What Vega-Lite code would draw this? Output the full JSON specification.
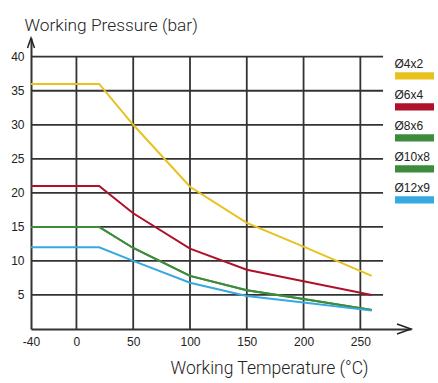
{
  "$schema": "https://vega.github.io/schema/vega-lite/v6.json",
  "width": 380,
  "height": 291,
  "autosize": {"type": "none"},
  "padding": {"left": 31, "top": 38, "right": 27, "bottom": 54},
  "background": "white",
  "config": {"view": {"stroke": null}, "axis": {"grid": false}},
  "datasets": {
    "curves": [
      {"s": "Ø4x2", "t": -40, "p": 36}, {"s": "Ø4x2", "t": 20, "p": 36}, {"s": "Ø4x2", "t": 50, "p": 30}, {"s": "Ø4x2", "t": 100, "p": 20.9}, {"s": "Ø4x2", "t": 150, "p": 15.6}, {"s": "Ø4x2", "t": 200, "p": 12.1}, {"s": "Ø4x2", "t": 260, "p": 7.8},
      {"s": "Ø6x4", "t": -40, "p": 21}, {"s": "Ø6x4", "t": 20, "p": 21}, {"s": "Ø6x4", "t": 50, "p": 17}, {"s": "Ø6x4", "t": 100, "p": 11.8}, {"s": "Ø6x4", "t": 150, "p": 8.7}, {"s": "Ø6x4", "t": 200, "p": 7}, {"s": "Ø6x4", "t": 260, "p": 5},
      {"s": "Ø8x6", "t": -40, "p": 15}, {"s": "Ø8x6", "t": 20, "p": 15}, {"s": "Ø8x6", "t": 50, "p": 11.9}, {"s": "Ø8x6", "t": 100, "p": 7.8}, {"s": "Ø8x6", "t": 150, "p": 5.7}, {"s": "Ø8x6", "t": 200, "p": 4.4}, {"s": "Ø8x6", "t": 260, "p": 2.8},
      {"s": "Ø10x8", "t": -40, "p": 15}, {"s": "Ø10x8", "t": 20, "p": 15}, {"s": "Ø10x8", "t": 50, "p": 11.9}, {"s": "Ø10x8", "t": 100, "p": 7.8}, {"s": "Ø10x8", "t": 150, "p": 5.7}, {"s": "Ø10x8", "t": 200, "p": 4.4}, {"s": "Ø10x8", "t": 260, "p": 2.8},
      {"s": "Ø12x9", "t": -40, "p": 12}, {"s": "Ø12x9", "t": 20, "p": 12}, {"s": "Ø12x9", "t": 50, "p": 10}, {"s": "Ø12x9", "t": 100, "p": 6.8}, {"s": "Ø12x9", "t": 150, "p": 4.85}, {"s": "Ø12x9", "t": 200, "p": 3.9}, {"s": "Ø12x9", "t": 260, "p": 2.7}
    ],
    "hgrid": [
      {"p": 5, "t": -40, "t2": 270}, {"p": 10, "t": -40, "t2": 270}, {"p": 15, "t": -40, "t2": 270}, {"p": 20, "t": -40, "t2": 270},
      {"p": 25, "t": -40, "t2": 270}, {"p": 30, "t": -40, "t2": 270}, {"p": 35, "t": -40, "t2": 270}, {"p": 40, "t": -40, "t2": 270}
    ],
    "vgrid": [
      {"t": 0, "p": 0, "p2": 40}, {"t": 50, "p": 0, "p2": 40}, {"t": 100, "p": 0, "p2": 40},
      {"t": 150, "p": 0, "p2": 40}, {"t": 200, "p": 0, "p2": 40}, {"t": 250, "p": 0, "p2": 40}
    ],
    "arrows": [
      {"dir": "right", "t": 294.6, "p": 0},
      {"dir": "up", "t": -40, "p": 42.75}
    ]
  },
  "encoding": {
    "x": {
      "field": "t", "type": "quantitative",
      "scale": {"domain": [-40, 294.6], "nice": false, "zero": false},
      "axis": {
        "values": [-40, 0, 50, 100, 150, 200, 250],
        "labelExpr": "replace(datum.label, '−', '-')",
        "ticks": false, "grid": false, "labelFlush": false, "labelOverlap": false,
        "domainColor": "#333", "domainWidth": 2,
        "labelFont": "Liberation Sans", "labelFontSize": 12, "labelColor": "#222", "labelPadding": 7,
        "title": "Working Temperature (°C)",
        "titleFont": "Roboto", "titleFontWeight": 300, "titleFontSize": 17.5, "titleColor": "#222",
        "titleX": 238, "titleY": 39, "titleAlign": "center", "titleBaseline": "middle", "titleAnchor": null
      }
    },
    "y": {
      "field": "p", "type": "quantitative",
      "scale": {"domain": [0, 42.75], "nice": false, "zero": false},
      "axis": {
        "values": [5, 10, 15, 20, 25, 30, 35, 40],
        "ticks": false, "grid": false, "labelOverlap": false, "labelFlush": false,
        "domainColor": "#333", "domainWidth": 2,
        "labelFont": "Liberation Sans", "labelFontSize": 12, "labelColor": "#222", "labelPadding": 7,
        "title": "Working Pressure (bar)",
        "titleFont": "Roboto", "titleFontWeight": 300, "titleFontSize": 17.3, "titleColor": "#222",
        "titleAngle": 0, "titleX": -7, "titleY": -13, "titleAlign": "left", "titleBaseline": "middle", "titleAnchor": null
      }
    }
  },
  "layer": [
    {
      "data": {"name": "hgrid"},
      "mark": {"type": "rule", "color": "#333", "strokeWidth": 1.8},
      "encoding": {"x2": {"field": "t2"}}
    },
    {
      "data": {"name": "vgrid"},
      "mark": {"type": "rule", "color": "#333", "strokeWidth": 1.8},
      "encoding": {"y2": {"field": "p2"}}
    },
    {
      "data": {"name": "curves"},
      "mark": {"type": "line", "strokeWidth": 2},
      "encoding": {
        "color": {
          "field": "s", "type": "nominal",
          "scale": {"domain": ["Ø4x2", "Ø6x4", "Ø8x6", "Ø10x8", "Ø12x9"], "range": ["#E9C11F", "#AE1129", "#3E8B3C", "#3E8B3C", "#36A9E1"]},
          "legend": {
            "title": null, "orient": "none", "legendX": 364, "legendY": 16,
            "symbolType": "M-1.95,0.83 H1.95 V1.56 H-1.95 Z", "symbolSize": 400,
            "symbolOffset": 9.5, "labelOffset": -30, "rowPadding": 5,
            "labelFont": "Liberation Sans", "labelFontSize": 12, "labelColor": "#222",
            "symbolStrokeWidth": 0,
            "encode": {"symbols": {"update": {"fill": {"scale": "color", "field": "value"}, "strokeWidth": {"value": 0}}}}
          }
        },
        "order": {"field": "t", "type": "quantitative"}
      }
    },
    {
      "data": {"name": "arrows"},
      "mark": {"type": "point", "filled": false, "color": "#222", "strokeWidth": 1.5, "opacity": 1, "size": 784},
      "encoding": {
        "shape": {
          "field": "dir", "type": "nominal",
          "scale": {"domain": ["right", "up"], "range": ["M-1,-0.36 L0,0 L-1,0.36", "M-0.25,0.71 L0,0 L0.25,0.71"]},
          "legend": null
        }
      }
    }
  ]
}
